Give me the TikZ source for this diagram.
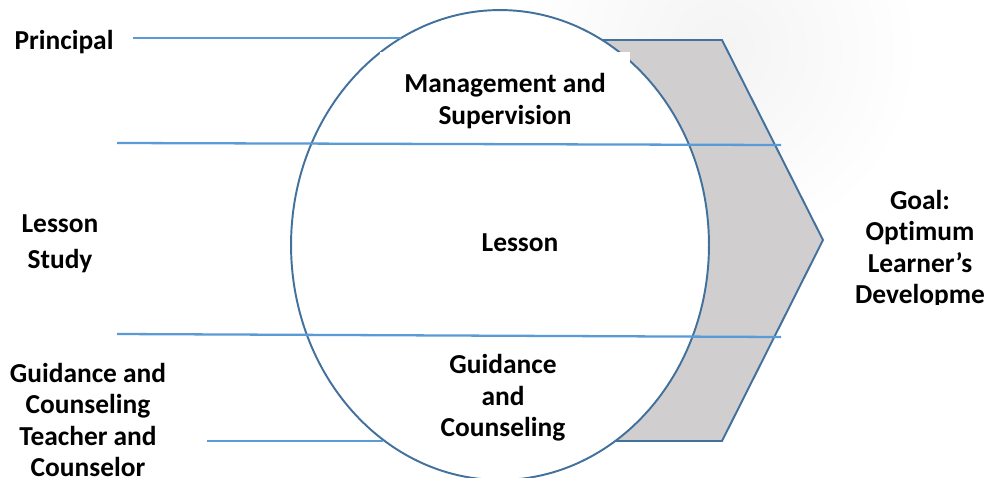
\documentclass[tikz,border=0pt]{standalone}
\usepackage{fontspec}
\setmainfont{Carlito}[Ligatures=NoCommon]
\usetikzlibrary{shapes.geometric}
\definecolor{rim}{HTML}{41719C}
\definecolor{rule}{HTML}{5B9BD5}
\definecolor{band}{HTML}{D0CECE}
\tikzset{
  lbl/.style={font=\bfseries\fontsize{15.6}{18}\selectfont,align=center,text=black,inner sep=0pt},
  tag/.style={lbl,fill=white,inner xsep=4pt,inner ysep=3pt},
  rim/.style={draw=rim,line width=1.1pt},
  tie/.style={draw=rule,line width=1.3pt},
}
\begin{document}
\begin{tikzpicture}[x=0.02cm,y=-0.02cm]
  \useasboundingbox (0,0) rectangle (990,477);
  \fill[white] (0,0) rectangle (990,477);
  % soft haze behind the arrow
  \shade[inner color=gray!9,outer color=white] (720,50) circle [radius=4cm];

  % grey arrow band, its left part hidden under the circle
  \path[rim,fill=band] (560,40) -- (722,40) -- (823,240) -- (722,441) -- (560,441) -- cycle;
  \node[rim,fill=white,ellipse,minimum width=8.36cm,minimum height=9.4cm,inner sep=0pt] (circ) at (500,245) {};

  % texts inside the circle
  \node[lbl,fill=white,anchor=north,minimum width=5cm,inner ysep=0.42cm] (mgmt) at (505,52) {Management and\\Supervision};
  \node[lbl] (lesson) at (520,243) {Lesson};
  \node[lbl] (gc) at (503,398) {Guidance\\and\\Counseling};

  % people on the left
  \node[tag] (principal) at (64,42) {Principal};
  \node[tag] (study) at (60,244) {Lesson\\[2.5pt]Study};
  \node[tag] (teacher) at (88,420) {Guidance and\\Counseling\\Teacher and\\Counselor};

  % goal text, cut off at its box
  \begin{scope}
    \clip (835,170) rectangle (990,304);
    \node[lbl] (goal) at (920,249) {Goal:\\Optimum\\Learner’s\\Developme};
  \end{scope}

  % the ties across the circle
  \coordinate (p1) at (133,38);   \coordinate (q1) at (401,38);
  \coordinate (p2) at (117,143);  \coordinate (q2) at (781,145);
  \coordinate (p3) at (117,334);  \coordinate (q3) at (781,337);
  \coordinate (p4) at (207,441);  \coordinate (q4) at (383,441);
  \foreach \i in {1,...,4}
    \draw[tie] (p\i) -- (q\i);
\end{tikzpicture}
\end{document}
